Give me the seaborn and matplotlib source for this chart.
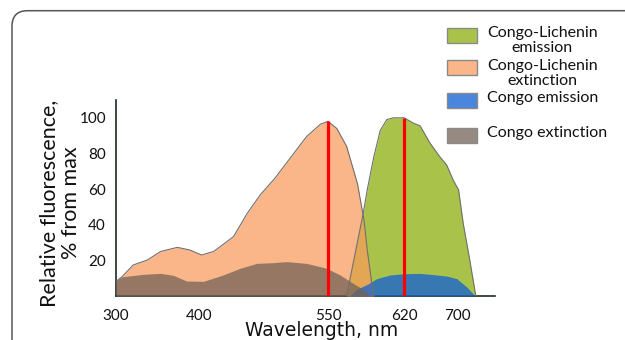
import numpy as np
import matplotlib
matplotlib.use("Agg")
import matplotlib.pyplot as plt
from matplotlib.patches import Rectangle, FancyBboxPatch
import seaborn as sns

# --- data (wavelength nm, % from max) ---
lich_ext_nm = [300, 308, 321, 338, 354, 374, 389, 403, 417, 440, 456, 471, 488,
               510, 525, 541, 550, 558, 567, 577, 583, 586, 590, 592]
lich_ext_val = [8, 11, 17.4, 20.2, 25, 27.3, 25.8, 23, 25, 33.3, 46.4, 56.7, 66,
                80, 89.5, 96.4, 98, 94, 84, 63, 42.7, 25.8, 8, 0]

lich_em_nm = [567, 582, 586, 592, 598, 604, 610, 620, 634, 644, 659, 674, 684,
              694, 702, 709, 719, 728]
lich_em_val = [0, 45.5, 59.6, 78, 93, 99, 100, 100, 97, 95.5, 85.8, 78, 73.6,
               65, 59.6, 40.8, 20, 0]

congo_em_nm = [570, 576, 586, 595, 607, 620, 644, 664, 684, 699, 714, 727]
congo_em_val = [0, 3.7, 6.5, 9.8, 11.8, 12.5, 12.7, 12, 11.2, 9.8, 5.2, 0]

congo_ext_nm = [300, 308, 334, 354, 369, 385, 405, 428, 448, 467, 486, 502,
                525, 548, 561, 573, 583, 589]
congo_ext_val = [8.6, 10.8, 12.2, 12.7, 11.6, 8.4, 8.2, 11.8, 15.6, 18.3, 18.7,
                 19.3, 18.3, 15.6, 11.8, 7.1, 3.4, 0]

peak_nm = [550, 620]
peak_val = [98, 100]

tick_nm = [300, 400, 550, 620, 700]
ytick_vals = [20, 40, 60, 80, 100]

legend_labels = ["Congo-Lichenin\nemission", "Congo-Lichenin\nextinction",
                 "Congo emission", "Congo extinction"]
legend_colors = ["#A9C24A", "#FAB588", "#4A86DB", "#968A82"]

# the wavelength axis in the original is not linear: piecewise map
knot_nm = np.array([300, 400, 550, 620, 700, 760], float)
knot_px = np.array([115.7, 199, 328, 404, 457, 496.75])


def fwd(x):
    x = np.asarray(x, float)
    y = np.interp(x, knot_nm, knot_px)
    s0 = (knot_px[1] - knot_px[0]) / (knot_nm[1] - knot_nm[0])
    s1 = (knot_px[-1] - knot_px[-2]) / (knot_nm[-1] - knot_nm[-2])
    y = np.where(x < knot_nm[0], knot_px[0] + (x - knot_nm[0]) * s0, y)
    y = np.where(x > knot_nm[-1], knot_px[-1] + (x - knot_nm[-1]) * s1, y)
    return y


def inv(p):
    p = np.asarray(p, float)
    x = np.interp(p, knot_px, knot_nm)
    s0 = (knot_nm[1] - knot_nm[0]) / (knot_px[1] - knot_px[0])
    s1 = (knot_nm[-1] - knot_nm[-2]) / (knot_px[-1] - knot_px[-2])
    x = np.where(p < knot_px[0], knot_nm[0] + (p - knot_px[0]) * s0, x)
    x = np.where(p > knot_px[-1], knot_nm[-1] + (p - knot_px[-1]) * s1, x)
    return x


sns.set_theme(style="white")
plt.rcParams['font.family'] = ['Lato', 'DejaVu Sans']

W, H = 625, 340
fig = plt.figure(figsize=(W / 100, H / 100), dpi=100)
ax = fig.add_axes([115.7 / W, 44 / H, 379.3 / W, 196 / H])
ax.set_xscale('function', functions=(fwd, inv))

edge = "#707070"

# Congo-Lichenin extinction
ax.fill_between(lich_ext_nm, lich_ext_val, color="#FAB588", lw=0, zorder=1)
# Congo-Lichenin emission
ax.fill_between(lich_em_nm, lich_em_val, color="#A9C24A", lw=0, zorder=2)
# overlap of the two Congo-Lichenin curves
grid = np.linspace(560, 600, 200)
ov = np.minimum(np.interp(grid, lich_ext_nm, lich_ext_val, left=0, right=0),
                np.interp(grid, lich_em_nm, lich_em_val, left=0, right=0))
ax.fill_between(grid, ov, color="#E2A655", lw=0, zorder=3)
# Congo emission
ax.fill_between(congo_em_nm, congo_em_val, color="#1764D1", alpha=0.78, lw=0, zorder=4)
# Congo extinction
ax.fill_between(congo_ext_nm, congo_ext_val, color="#736358", alpha=0.75, lw=0, zorder=5)

for xs, ys in [(lich_ext_nm, lich_ext_val), (lich_em_nm, lich_em_val)]:
    sns.lineplot(x=xs, y=ys, ax=ax, color=edge, lw=0.8, sort=False,
                 estimator=None, zorder=6, legend=False)

ax.vlines(peak_nm, 0, peak_val, color="#FF0000", lw=2.3, zorder=7)

ax.set_xlim(300, 757)
ax.set_ylim(0, 110)
ax.set_xticks(tick_nm)
ax.set_xticklabels([str(t) for t in tick_nm])
ax.set_yticks(ytick_vals)
ax.tick_params(axis='both', length=0, labelsize=11, colors="#111111")
ax.tick_params(axis='x', pad=9)
ax.tick_params(axis='y', pad=7)
for s in ['top', 'right']:
    ax.spines[s].set_visible(False)
for s in ['left', 'bottom']:
    ax.spines[s].set_color("#1f2a1f")
    ax.spines[s].set_linewidth(1.2)
ax.set_facecolor("none")

ax.text(-0.147, 0.474, "Relative fluorescence,\n% from max", transform=ax.transAxes,
        rotation=90, ha='center', va='center', multialignment='center',
        fontsize=15.5, linespacing=1.12, color="#111111")
ax.text(0.5426, (296 - 336.5) / 196, "Wavelength, nm", transform=ax.transAxes,
        ha='center', va='baseline', fontsize=13.5, color="#111111",
        family=['DejaVu Sans'])


def fx(px):
    return px / W


def fy(py):
    return 1 - py / H


# frame of the card
fig.add_artist(FancyBboxPatch((fx(12), fy(400)), fx(700), (400 - 10.7) / H,
                              boxstyle="round,pad=0,rounding_size=0.025",
                              transform=fig.transFigure, fill=False,
                              ec="#555555", lw=1.1, mutation_aspect=W / H))

# legend drawn by hand to keep the row layout of the original
rows_y = [35, 67.5, 100, 135]
for lab, col, yc in zip(legend_labels, legend_colors, rows_y):
    fig.add_artist(Rectangle((fx(447), fy(yc + 7.5)), 30 / W, 15 / H,
                             transform=fig.transFigure, fc=col, ec="#8a8a8a", lw=1))
    fig.text(fx(487), fy(yc - 8.5), lab, ha='left', va='top', multialignment='center',
             fontsize=11.5, linespacing=1.05, color="#111111")

fig.savefig("out.png", dpi=100)
